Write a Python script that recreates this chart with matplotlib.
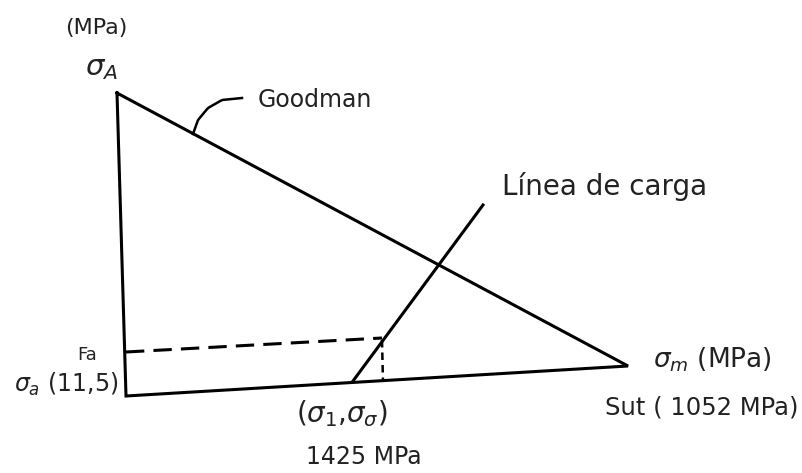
import matplotlib
matplotlib.use("Agg")
import matplotlib.pyplot as plt
import numpy as np

# Sketch vertices (image pixel coordinates of the hand-drawn diagram)
triangle_x = [117, 126, 628, 117]
triangle_y = [93, 396, 366, 93]
load_line_x = [353, 483]
load_line_y = [381, 205]
dash_h_x = [126, 382]
dash_h_y = [352, 338]
dash_v_x = [382, 383]
dash_v_y = [340, 382]
leader_x = [193, 198, 208, 222, 242]
leader_y = [134, 120, 108, 100, 98]

labels = [
    ("(MPa)", 96, 28, 16),
    (r"$\sigma_A$", 101, 68, 21),
    ("Goodman", 315, 100, 17),
    ("Línea de carga", 605, 186, 20),
    ("Fa", 87, 355, 13),
    (r"$\sigma_a$ (11,5)", 66, 384, 17),
    (r"($\sigma_1$,$\sigma_\sigma$)", 342, 414, 20),
    ("1425 MPa", 364, 457, 17),
    (r"$\sigma_m$ (MPa)", 712, 360, 19),
    ("Sut ( 1052 MPa)", 702, 407, 17.5),
]

plt.rcParams["mathtext.fontset"] = "dejavusans"
fig = plt.figure(figsize=(8.02, 4.73), dpi=100)
ax = fig.add_axes([0, 0, 1, 1])
ax.set_xlim(0, 802)
ax.set_ylim(473, 0)
ax.axis("off")

lw = 2.2
ax.plot(triangle_x, triangle_y, color="black", lw=lw, solid_joinstyle="miter")
ax.plot(load_line_x, load_line_y, color="black", lw=lw)
ax.plot(dash_h_x, dash_h_y, color="black", lw=lw, dashes=(6, 3))
ax.plot(dash_v_x, dash_v_y, color="black", lw=lw - 0.4, dashes=(3, 2))
t = np.linspace(0, 1, 30)
xs = np.interp(t, np.linspace(0, 1, len(leader_x)), leader_x)
ys = np.interp(t, np.linspace(0, 1, len(leader_y)), leader_y)
ax.plot(xs, ys, color="black", lw=1.8)

for txt, x, y, fs in labels:
    ax.text(x, y, txt, ha="center", va="center", fontsize=fs, color="#222222")

fig.savefig("out.png", dpi=100)
